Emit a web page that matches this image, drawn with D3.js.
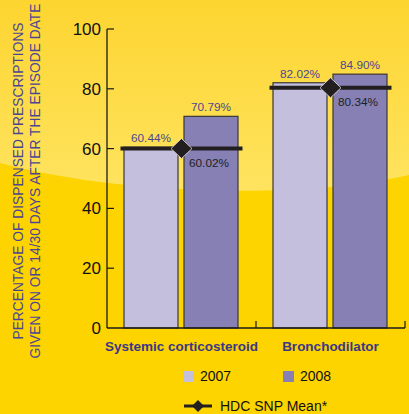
<!DOCTYPE html>
<html>
<head>
<meta charset="utf-8">
<script src="https://cdn.jsdelivr.net/npm/d3@7"></script>
<style>
  html, body { margin: 0; padding: 0; background: #fdd300; }
  svg { display: block; font-family: "Liberation Sans", Arial, sans-serif; }
</style>
</head>
<body>
<svg id="chart" width="409" height="414"></svg>
<script>
// Dispensed prescriptions given on or within 14/30 days after the episode date
const categories = ["Systemic corticosteroid", "Bronchodilator"];
const years = ["2007", "2008"];
const values2007 = [60.44, 82.02];
const values2008 = [70.79, 84.90];
const meanValues = [60.02, 80.34];
const yTicks = [0, 20, 40, 60, 80, 100];
const yTitleLines = ["PERCENTAGE OF DISPENSED PRESCRIPTIONS", "GIVEN ON OR 14/30 DAYS AFTER THE EPISODE DATE"];
const meanLabel = "HDC SNP Mean*";

const series = { "2007": values2007, "2008": values2008 };
const colors = { "2007": "#c3bfdd", "2008": "#8680b5" };

const W = 409, H = 414;
const svg = d3.select("#chart");

// background: yellow with a lighter sweep across the upper half
const defs = svg.append("defs");
const grad = defs.append("linearGradient").attr("id", "bgTop")
  .attr("x1", 0).attr("y1", 0).attr("x2", 0).attr("y2", 1);
grad.append("stop").attr("offset", "0%").attr("stop-color", "#fdd530");
grad.append("stop").attr("offset", "100%").attr("stop-color", "#ffe462");
svg.append("rect").attr("width", W).attr("height", 200).attr("fill", "url(#bgTop)");
svg.append("rect").attr("y", 200).attr("width", W).attr("height", H - 200).attr("fill", "#fdd300");
svg.append("path")
  .attr("d", "M0,163 C120,195 300,200 409,175 L409,414 L0,414 Z")
  .attr("fill", "#fdd300");

// scales
const y = d3.scaleLinear().domain([0, 100]).range([328, 29]);
const x = d3.scaleBand().domain(categories).range([107, 405]);
const xs = d3.scaleBand().domain(years).range([17, 131]).paddingInner(0.1);

// bars
const groups = svg.append("g").selectAll("g").data(categories).join("g")
  .attr("transform", d => `translate(${x(d)},0)`);

years.forEach(yr => {
  groups.append("rect")
    .attr("x", xs(yr))
    .attr("width", xs.bandwidth())
    .attr("y", (d, i) => y(series[yr][i]))
    .attr("height", (d, i) => y(0) - y(series[yr][i]))
    .attr("fill", colors[yr])
    .attr("stroke", "#3a3636")
    .attr("stroke-width", 1.2);
  groups.append("text")
    .attr("x", xs(yr) + xs.bandwidth() / 2)
    .attr("y", (d, i) => y(series[yr][i]) - 5)
    .attr("text-anchor", "middle")
    .attr("font-size", 11.8)
    .attr("fill", "#4c4890")
    .text((d, i) => series[yr][i].toFixed(2) + "%");
});

// axes
const axisColor = "#1a1a1a";
svg.append("line").attr("x1", 107).attr("x2", 107).attr("y1", y(100)).attr("y2", y(0))
  .attr("stroke", axisColor).attr("stroke-width", 1.3);
svg.append("line").attr("x1", 107).attr("x2", 405).attr("y1", y(0)).attr("y2", y(0))
  .attr("stroke", axisColor).attr("stroke-width", 1.3);

const yAxis = svg.append("g");
yTicks.forEach(t => {
  if (t > 0) {
    yAxis.append("line").attr("x1", 107).attr("x2", 114).attr("y1", y(t)).attr("y2", y(t))
      .attr("stroke", axisColor).attr("stroke-width", 1.2);
  }
  yAxis.append("text")
    .attr("x", 101).attr("y", y(t) + 6)
    .attr("text-anchor", "end")
    .attr("font-size", 17)
    .attr("fill", "#111")
    .text(t);
});

// category separators on the baseline
categories.forEach(c => {
  const xr = x(c) + x.bandwidth();
  svg.append("line").attr("x1", xr).attr("x2", xr).attr("y1", y(0)).attr("y2", y(0) - 7)
    .attr("stroke", axisColor).attr("stroke-width", 1.2);
});

// category labels
svg.append("g").selectAll("text").data(categories).join("text")
  .attr("x", d => x(d) + x.bandwidth() / 2)
  .attr("y", 351)
  .attr("text-anchor", "middle")
  .attr("font-size", 13.5)
  .attr("font-weight", "bold")
  .attr("fill", "#3b3787")
  .text(d => d);

// mean markers
const diamond = (cx, cy, rx, ry) => `M${cx},${cy - ry} L${cx + rx},${cy} L${cx},${cy + ry} L${cx - rx},${cy} Z`;
const meanG = svg.append("g");
categories.forEach((c, i) => {
  const cx = x(c) + x.bandwidth() / 2;
  const cy = y(meanValues[i]);
  meanG.append("line").attr("x1", cx - 61).attr("x2", cx + 61).attr("y1", cy).attr("y2", cy)
    .attr("stroke", "#231f20").attr("stroke-width", 4);
  meanG.append("path").attr("d", diamond(cx, cy, 10.5, 10))
    .attr("fill", "#231f20").attr("stroke", "#e8e4e0").attr("stroke-width", 0.8);
  meanG.append("text")
    .attr("x", x(c) + xs("2008") + xs.bandwidth() / 2 - 2)
    .attr("y", cy + 18)
    .attr("text-anchor", "middle")
    .attr("font-size", 11.8)
    .attr("fill", "#231f20")
    .text(meanValues[i].toFixed(2) + "%");
});

// legend
const legend = svg.append("g");
const legendPos = [183, 283];
years.forEach((yr, i) => {
  legend.append("rect").attr("x", legendPos[i]).attr("y", 371).attr("width", 11).attr("height", 11)
    .attr("fill", colors[yr]);
  legend.append("text").attr("x", legendPos[i] + 17).attr("y", 381)
    .attr("font-size", 14).attr("fill", "#111").text(yr);
});
legend.append("line").attr("x1", 184).attr("x2", 212).attr("y1", 406).attr("y2", 406)
  .attr("stroke", "#231f20").attr("stroke-width", 3);
legend.append("path").attr("d", diamond(198, 406, 6, 6)).attr("fill", "#231f20");
legend.append("text").attr("x", 220).attr("y", 411)
  .attr("font-size", 14).attr("fill", "#111").text(meanLabel);

// y-axis title (two rotated lines)
const titleG = svg.append("g").attr("transform", "translate(0,181) rotate(-90)");
yTitleLines.forEach((t, i) => {
  titleG.append("text")
    .attr("x", 0).attr("y", 23 + i * 17)
    .attr("text-anchor", "middle")
    .attr("font-size", 13.8)
    .attr("fill", "#4b4594")
    .text(t);
});
</script>
</body>
</html>
